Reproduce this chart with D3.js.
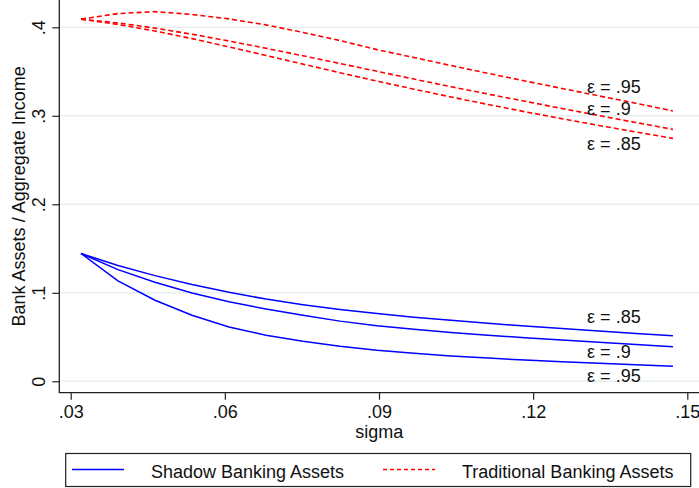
<!DOCTYPE html>
<html lang="en">
<head>
<meta charset="UTF-8">
<title>Bank assets vs sigma</title>
<style>
  body { margin: 0; background: #fff; }
  svg { display: block; font-family: "Liberation Sans", Arial, Helvetica, sans-serif; }
</style>
</head>
<body>
<svg width="699" height="488"></svg>
<script src="https://d3js.org/d3.v7.min.js"></script>
<script>
// sigma grid (x values)
var sigma = [0.032, 0.0392, 0.0464, 0.0536, 0.0608, 0.068, 0.0752, 0.0824, 0.0896,
             0.0968, 0.104, 0.1112, 0.1184, 0.1256, 0.1328, 0.14, 0.1472];

// shadow banking assets / aggregate income
var shadow85 = [.1444, .1309, .1194, .1094, .1006, .0929, .0866, .0812, .0765,
                .0725, .0689, .0656, .0625, .0596, .0569, .0541, .0515];
var shadow90 = [.1444, .1262, .1120, .0998, .0900, .0816, .0746, .0680, .0627,
                .0587, .0552, .0521, .0493, .0466, .0440, .0415, .0390];
var shadow95 = [.1444, .1135, .0916, .0747, .0614, .0520, .0452, .0396, .0351,
                .0316, .0287, .0262, .0240, .0220, .0203, .0186, .0170];

// traditional banking assets / aggregate income
var trad85 = [.4092, .4032, .3958, .3872, .3779, .3682, .3584, .3487, .3392,
              .3301, .3213, .3128, .3046, .2967, .2891, .2817, .2745];
var trad90 = [.4092, .4049, .3991, .3922, .3845, .3763, .3678, .3591, .3503,
              .3415, .3329, .3246, .3164, .3083, .3003, .2924, .2847];
var trad95 = [.4092, .4155, .4177, .4145, .4095, .4027, .3942, .3850, .3748,
              .3659, .3568, .3480, .3394, .3309, .3225, .3142, .3055];

var xTicks = [.03, .06, .09, .12, .15];
var yTicks = [0, .1, .2, .3, .4];

// curve labels: text, sigma, value
var labelText = ["ε = .95", "ε = .9", "ε = .85", "ε = .85", "ε = .9", "ε = .95"];
var labelX = [.1305, .1305, .1305, .1305, .1305, .1305];
var labelY = [.333, .3085, .2687, .0733, .0342, .0069];

var legendNames = ["Shadow Banking Assets", "Traditional Banking Assets"];

var svg = d3.select("svg");
const fontSize = 18;

var x = d3.scaleLinear().domain([.03, .15]).range([70.7, 687.3]);
var y = d3.scaleLinear().domain([0, .4]).range([381.3, 27.3]);

const pLeft = 59.3, pBottom = 392.7, pRight = 699, pTop = 0;

// gridlines
svg.append("g").selectAll("line")
    .data(yTicks)
    .enter().append("line")
    .attr("x1", pLeft).attr("x2", pRight)
    .attr("y1", d => y(d)).attr("y2", d => y(d))
    .style("stroke", "#e8eff1")
    .style("stroke-width", 1.5);

// y axis
var yAxis = d3.axisLeft(y).tickValues(yTicks).tickSize(7)
    .tickFormat(d => d === 0 ? "0" : d3.format(".1f")(d).replace("0.", "."));
var gy = svg.append("g").attr("transform", "translate(" + pLeft + ",0)").call(yAxis);
gy.select(".domain").remove();
gy.selectAll(".tick line").style("stroke", "#222").style("stroke-width", 1.2);
gy.selectAll(".tick text")
    .attr("x", null).attr("dy", null)
    .attr("transform", "translate(-14,0) rotate(-90)")
    .attr("text-anchor", "middle")
    .style("font-size", fontSize + "px")
    .style("font-family", "Liberation Sans, Arial, sans-serif")
    .style("fill", "#111");

// x axis
var xAxis = d3.axisBottom(x).tickValues(xTicks).tickSize(7)
    .tickFormat(d => d3.format(".2f")(d).replace("0.", "."));
var gx = svg.append("g").attr("transform", "translate(0," + pBottom + ")").call(xAxis);
gx.select(".domain").remove();
gx.selectAll(".tick line").style("stroke", "#222").style("stroke-width", 1.2);
gx.selectAll(".tick text")
    .attr("dy", null).attr("y", 25.5)
    .style("font-size", fontSize + "px")
    .style("font-family", "Liberation Sans, Arial, sans-serif")
    .style("fill", "#111");

// axis lines
svg.append("path")
    .attr("d", "M" + pLeft + "," + pTop + "V" + pBottom + "H" + pRight)
    .style("fill", "none")
    .style("stroke", "#222")
    .style("stroke-width", 1.3);

// titles
svg.append("text")
    .attr("transform", "translate(25," + (pTop + pBottom) / 2 + ") rotate(-90)")
    .attr("text-anchor", "middle")
    .style("font-size", fontSize + "px")
    .style("fill", "#111")
    .text("Bank Assets / Aggregate Income");

svg.append("text")
    .attr("x", (pLeft + pRight) / 2).attr("y", 438)
    .attr("text-anchor", "middle")
    .style("font-size", fontSize + "px")
    .style("fill", "#111")
    .text("sigma");

// lines
var line = d3.line()
    .x((d, i) => x(sigma[i]))
    .y(d => y(d));

var shadowSeries = [shadow85, shadow90, shadow95];
var tradSeries = [trad85, trad90, trad95];

svg.append("g").selectAll("path")
    .data(shadowSeries)
    .enter().append("path")
    .attr("d", line)
    .style("fill", "none")
    .style("stroke", "#0000ff")
    .style("stroke-width", 1.5);

svg.append("g").selectAll("path")
    .data(tradSeries)
    .enter().append("path")
    .attr("d", line)
    .style("fill", "none")
    .style("stroke", "#ff0000")
    .style("stroke-width", 1.6)
    .style("stroke-dasharray", "5,3");

// curve labels
svg.append("g").selectAll("text")
    .data(labelText)
    .enter().append("text")
    .attr("x", (d, i) => x(labelX[i]))
    .attr("y", (d, i) => y(labelY[i]) + 6.5)
    .style("font-size", fontSize + "px")
    .style("fill", "#111")
    .text(d => d);

// legend
var lg = svg.append("g");
lg.append("rect")
    .attr("x", 65.7).attr("y", 453.5)
    .attr("width", 625).attr("height", 33)
    .style("fill", "#fff")
    .style("stroke", "#222")
    .style("stroke-width", 1.2);

var legendX = [72, 383];
var legendStyle = [{c: "#0000ff", dash: null}, {c: "#ff0000", dash: "4,3"}];

legendNames.forEach(function(name, i) {
    lg.append("line")
        .attr("x1", legendX[i]).attr("x2", legendX[i] + 52)
        .attr("y1", 469.5).attr("y2", 469.5)
        .style("stroke", legendStyle[i].c)
        .style("stroke-width", 1.6)
        .style("stroke-dasharray", legendStyle[i].dash);
    lg.append("text")
        .attr("x", legendX[i] + 79).attr("y", 478)
        .style("font-size", fontSize + "px")
        .style("fill", "#111")
        .text(name);
});
</script>
</body>
</html>
